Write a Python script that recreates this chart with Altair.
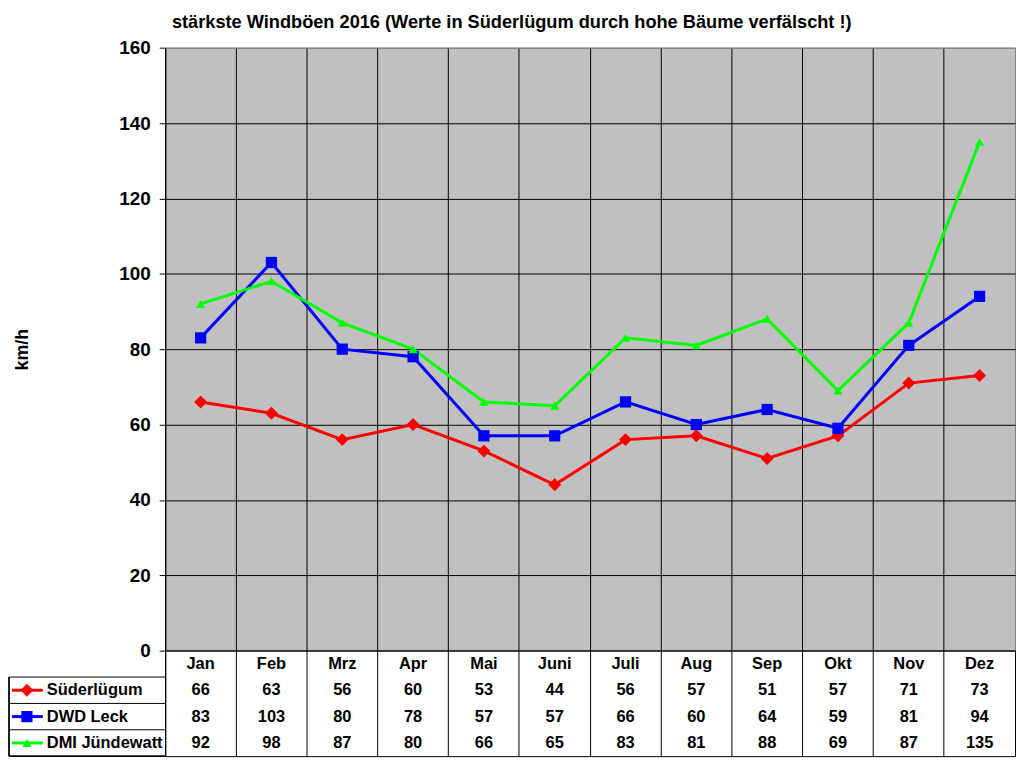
import altair as alt
import pandas as pd

months = ["Jan", "Feb", "Mrz", "Apr", "Mai", "Juni", "Juli", "Aug", "Sep", "Okt", "Nov", "Dez"]
series = ["Süderlügum", "DWD Leck", "DMI Jündewatt"]
suederluegum = [66, 63, 56, 60, 53, 44, 56, 57, 51, 57, 71, 73]
dwd_leck = [83, 103, 80, 78, 57, 57, 66, 60, 64, 59, 81, 94]
dmi_juendewatt = [92, 98, 87, 80, 66, 65, 83, 81, 88, 69, 87, 135]
colors = ["#FF0000", "#0000FF", "#00FF00"]
shapes = ["diamond", "square", "triangle-up"]
y_ticks = [0, 20, 40, 60, 80, 100, 120, 140, 160]
title_text = "stärkste Windböen 2016 (Werte in Süderlügum durch hohe Bäume verfälscht !)"

FONT = "Liberation Sans"
values = {"Süderlügum": suederluegum, "DWD Leck": dwd_leck, "DMI Jündewatt": dmi_juendewatt}

long_rows = []
for s in series:
    for m, v in zip(months, values[s]):
        long_rows.append({"month": m, "series": s, "value": v})
df = pd.DataFrame(long_rows)

rows = ["header"] + series
table_rows = [{"month": m, "row": "header", "label": m} for m in months]
for s in series:
    for m, v in zip(months, values[s]):
        table_rows.append({"month": m, "row": s, "label": str(v)})
df_table = pd.DataFrame(table_rows)
df_series = pd.DataFrame({"row": series, "series": series})

W, H, TH = 854, 606, 106

color_scale = alt.Scale(domain=series, range=colors)
shape_scale = alt.Scale(domain=series, range=shapes)
size_scale = alt.Scale(domain=series, range=[170, 85, 260])
x_scale = alt.Scale(type="band", domain=months, paddingInner=0, paddingOuter=0)

x_top = alt.X("month:N", sort=months, scale=x_scale,
              axis=alt.Axis(title=None, labels=False, ticks=False, domain=True,
                            domainColor="black", grid=True, gridColor="black",
                            gridOpacity=1, bandPosition=0, minExtent=0, maxExtent=0,
                            offset=0))
y_top = alt.Y("value:Q", scale=alt.Scale(domain=[0, 160], nice=False),
              axis=alt.Axis(values=y_ticks, title="km/h", titleFont=FONT,
                            titleFontSize=18, titleFontWeight="bold", titleColor="black",
                            titleX=-143, titleBaseline="middle",
                            labelFont=FONT, labelFontSize=19, labelFontWeight="bold",
                            labelColor="black", labelPadding=9, tickSize=6,
                            tickColor="black", domainColor="black", grid=True,
                            gridColor={"condition": {"test": "datum.value == 160", "value": "#808080"}, "value": "black"},
                            gridOpacity=1))

base = alt.Chart(df)
lines = base.mark_line(strokeWidth=3).encode(
    x=x_top, y=y_top,
    color=alt.Color("series:N", scale=color_scale, legend=None),
    detail="series:N",
)
points = base.mark_point(filled=True, opacity=1, strokeWidth=0).encode(
    x=x_top, y=y_top,
    color=alt.Color("series:N", scale=color_scale, legend=None),
    shape=alt.Shape("series:N", scale=shape_scale, legend=None),
    size=alt.Size("series:N", scale=size_scale, legend=None),
)
top = alt.layer(lines, points).properties(
    width=W, height=H,
    view=alt.ViewBackground(fill="#C0C0C0", stroke="#808080"),
)

x_tab = alt.X("month:N", sort=months, scale=x_scale,
              axis=alt.Axis(title=None, labels=False, ticks=False, domain=False,
                            grid=True, gridColor="black", gridOpacity=1, bandPosition=0,
                            minExtent=0, maxExtent=0, offset=0))
y_tab_scale = alt.Scale(type="band", domain=rows, paddingInner=0, paddingOuter=0)
y_tab = alt.Y("row:N", sort=rows, scale=y_tab_scale,
              axis=alt.Axis(title=None, labels=False, ticks=False, domain=False,
                            grid=True, gridColor="black", gridOpacity=1, bandPosition=0,
                            minExtent=0, maxExtent=0))

cells = alt.Chart(df_table).mark_text(font=FONT, fontSize=16.5, fontWeight="bold",
                                     color="black", baseline="middle").encode(
    x=x_tab, y=y_tab, text="label:N")

leg_base = alt.Chart(df_series)
y_leg = alt.Y("row:N", sort=rows, scale=y_tab_scale, axis=None)
leg_lines = leg_base.mark_rule(strokeWidth=3).encode(
    y=y_leg, x=alt.value(-154), x2=alt.value(-123),
    color=alt.Color("series:N", scale=color_scale, legend=None))
leg_pts = leg_base.mark_point(filled=True, opacity=1, strokeWidth=0).encode(
    y=y_leg, x=alt.value(-139),
    color=alt.Color("series:N", scale=color_scale, legend=None),
    shape=alt.Shape("series:N", scale=shape_scale, legend=None),
    size=alt.Size("series:N", scale=size_scale, legend=None))
leg_text = leg_base.mark_text(align="left", baseline="middle", font=FONT, fontSize=16.5,
                              fontWeight="bold", color="black").encode(
    y=y_leg, x=alt.value(-119), text="series:N")
row_lines = leg_base.mark_rule(color="black", strokeWidth=1).encode(
    y=alt.Y("row:N", sort=rows, scale=y_tab_scale, axis=None, bandPosition=0),
    x=alt.value(-157), x2=alt.value(0))
bottom_line = leg_base.mark_rule(color="black", strokeWidth=1).encode(
    y=alt.value(TH), x=alt.value(-157), x2=alt.value(0))
left_line = leg_base.mark_rule(color="black", strokeWidth=1).encode(
    x=alt.value(-157), y=alt.value(TH / 4), y2=alt.value(TH))

table = alt.layer(cells, row_lines, bottom_line, left_line, leg_lines, leg_pts, leg_text).properties(
    width=W, height=TH,
    view=alt.ViewBackground(fill="white", stroke="black"),
)

chart = alt.vconcat(top, table, spacing=0, bounds="flush").properties(
    title=alt.TitleParams(title_text, font=FONT, fontSize=18.3, fontWeight="bold",
                          color="black", anchor="middle", offset=6),
    padding={"left": 0, "top": 3, "right": 0, "bottom": 0},
).configure(background="white").resolve_scale(x="shared")

chart.save("out.html", embed_options={"renderer": "svg", "actions": False})
